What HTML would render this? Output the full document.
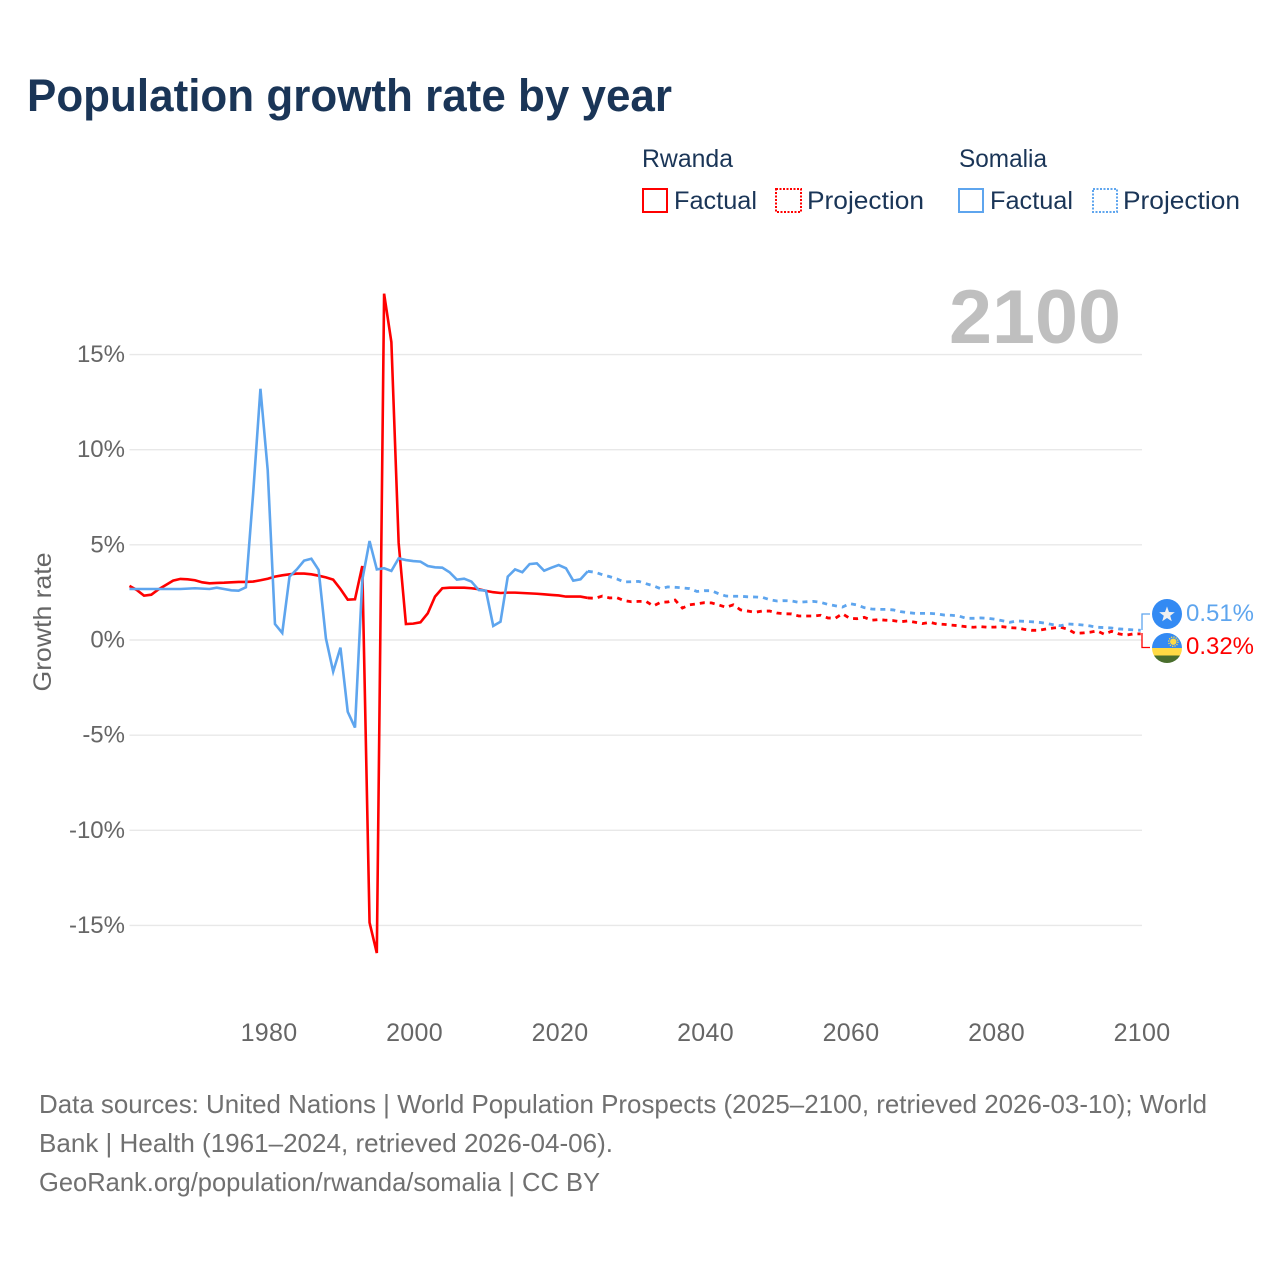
<!DOCTYPE html>
<html>
<head>
<meta charset="utf-8">
<title>Population growth rate by year</title>
<style>
html,body{margin:0;padding:0;background:#fff;}
svg{display:block;font-family:"Liberation Sans",sans-serif;}
</style>
</head>
<body>
<svg id="chart" width="1280" height="1280" viewBox="0 0 1280 1280" xmlns="http://www.w3.org/2000/svg">
  <defs>
    <clipPath id="flag-clip-r"><circle cx="1167" cy="648" r="15"/></clipPath>
  </defs>
  <rect width="1280" height="1280" fill="#fff"/>
  <text x="27" y="111" font-size="45" font-weight="700" fill="#1a3557" textLength="645" lengthAdjust="spacingAndGlyphs">Population growth rate by year</text>

  <g font-size="25" fill="#1a3557">
    <text x="642" y="167" textLength="91" lengthAdjust="spacingAndGlyphs">Rwanda</text>
    <rect x="643" y="189" width="24" height="23" fill="none" stroke="#ff0000" stroke-width="2"/>
    <text x="674" y="209" textLength="83" lengthAdjust="spacingAndGlyphs">Factual</text>
    <rect x="776" y="189" width="25" height="23" fill="none" stroke="#ff0000" stroke-width="2" stroke-dasharray="2 1.5"/>
    <text x="807" y="209" textLength="117" lengthAdjust="spacingAndGlyphs">Projection</text>
    <text x="959" y="167" textLength="88" lengthAdjust="spacingAndGlyphs">Somalia</text>
    <rect x="959" y="189" width="24" height="23" fill="none" stroke="#5ea5ee" stroke-width="2"/>
    <text x="990" y="209" textLength="83" lengthAdjust="spacingAndGlyphs">Factual</text>
    <rect x="1093" y="189" width="24" height="23" fill="none" stroke="#5ea5ee" stroke-width="2" stroke-dasharray="2 1.5"/>
    <text x="1123" y="209" textLength="117" lengthAdjust="spacingAndGlyphs">Projection</text>
  </g>

  <text x="949" y="343" font-size="76" font-weight="700" fill="#bfbfbf" textLength="172" lengthAdjust="spacingAndGlyphs">2100</text>
  <text x="0" y="0" transform="translate(51,622) rotate(-90)" text-anchor="middle" font-size="25" fill="#666" textLength="139" lengthAdjust="spacingAndGlyphs">Growth rate</text>

  <g id="grid"></g>
  <g id="yticks" font-size="24" fill="#666" text-anchor="end"></g>
  <g id="xticks" font-size="25" fill="#666" text-anchor="middle" letter-spacing="0.3"></g>
  <g id="series"></g>

  <g>
    <path d="M1142 630V614H1150" fill="none" stroke="#5ea5ee" stroke-width="1.3"/>
    <path d="M1142 633V647.5H1150" fill="none" stroke="#ff0000" stroke-width="1.3"/>
    <g>
      <circle cx="1167" cy="614" r="15" fill="#338af3"/>
      <polygon points="1167,606.5 1169,612 1174.8,612.2 1170.2,615.7 1171.8,621.3 1167,618 1162.2,621.3 1163.8,615.7 1159.2,612.2 1165,612" fill="#f0f0f0"/>
    </g>
    <g clip-path="url(#flag-clip-r)">
      <rect x="1150" y="632" width="34" height="16" fill="#338af3"/>
      <rect x="1150" y="648" width="34" height="7.5" fill="#ffda44"/>
      <rect x="1150" y="655.5" width="34" height="9" fill="#496e2d"/>
      <circle cx="1173.3" cy="641.7" r="3.2" fill="#ffda44"/>
      <circle cx="1173.3" cy="641.7" r="4.6" fill="none" stroke="#ffda44" stroke-width="1.4" stroke-dasharray="1.2 1.2"/>
    </g>
    <text x="1186" y="621" font-size="24" fill="#5ea5ee" textLength="68" lengthAdjust="spacingAndGlyphs">0.51%</text>
    <text x="1186" y="654" font-size="24" fill="#ff0000" textLength="68" lengthAdjust="spacingAndGlyphs">0.32%</text>
  </g>

  <g font-size="26" fill="#707070">
    <text x="39" y="1113" textLength="1168" lengthAdjust="spacingAndGlyphs">Data sources: United Nations | World Population Prospects (2025–2100, retrieved 2026-03-10); World</text>
    <text x="39" y="1152" textLength="574" lengthAdjust="spacingAndGlyphs">Bank | Health (1961–2024, retrieved 2026-04-06).</text>
    <text x="39" y="1191" textLength="561" lengthAdjust="spacingAndGlyphs">GeoRank.org/population/rwanda/somalia | CC BY</text>
  </g>
</svg>
<script>
const factualStartYear = 1961;
const projectionStartYear = 2024;
const yTickValues = [15, 10, 5, 0, -5, -10, -15];
const xTickYears = [1980, 2000, 2020, 2040, 2060, 2080, 2100];

const rwandaFactual = [2.84,2.63,2.33,2.38,2.66,2.89,3.12,3.21,3.19,3.14,3.03,2.98,3.00,3.01,3.03,3.05,3.05,3.07,3.14,3.22,3.33,3.40,3.45,3.49,3.49,3.45,3.38,3.29,3.17,2.68,2.12,2.14,3.89,-14.85,-16.45,18.2,15.65,5.1,0.84,0.86,0.93,1.40,2.28,2.72,2.75,2.75,2.75,2.72,2.67,2.58,2.51,2.47,2.49,2.49,2.47,2.45,2.43,2.40,2.37,2.34,2.28,2.28,2.28,2.21];
const rwandaProjection = [2.21,2.19,2.31,2.21,2.22,2.07,2.01,2.03,2.03,1.79,1.98,2.00,2.10,1.68,1.85,1.90,1.96,1.95,1.84,1.72,1.85,1.58,1.52,1.46,1.52,1.52,1.42,1.38,1.37,1.26,1.26,1.26,1.30,1.16,1.14,1.38,1.14,1.12,1.19,1.04,1.07,1.04,1.02,0.96,1.00,0.93,0.86,0.93,0.84,0.82,0.78,0.75,0.70,0.67,0.70,0.67,0.68,0.70,0.65,0.63,0.56,0.51,0.51,0.58,0.63,0.67,0.56,0.35,0.37,0.41,0.48,0.30,0.46,0.32,0.26,0.32,0.32];
const somaliaFactual = [2.68,2.68,2.68,2.68,2.68,2.68,2.68,2.68,2.70,2.72,2.70,2.68,2.75,2.68,2.61,2.59,2.77,7.7,13.2,8.93,0.84,0.37,3.33,3.71,4.17,4.27,3.68,0.09,-1.66,-0.40,-3.77,-4.60,3.15,5.20,3.71,3.77,3.63,4.29,4.20,4.15,4.12,3.89,3.82,3.80,3.56,3.17,3.22,3.07,2.63,2.59,0.74,0.96,3.33,3.71,3.56,3.99,4.03,3.64,3.80,3.94,3.77,3.12,3.19,3.61];
const somaliaProjection = [3.61,3.56,3.43,3.33,3.21,3.05,3.06,3.08,2.96,2.85,2.70,2.79,2.77,2.74,2.70,2.55,2.59,2.59,2.43,2.31,2.30,2.30,2.27,2.26,2.24,2.12,2.05,2.07,2.05,1.98,2.01,2.03,1.98,1.87,1.80,1.73,1.91,1.84,1.70,1.63,1.61,1.61,1.58,1.49,1.44,1.40,1.40,1.40,1.37,1.31,1.30,1.26,1.14,1.14,1.16,1.14,1.09,1.01,0.93,1.00,0.98,0.96,0.93,0.88,0.80,0.75,0.84,0.82,0.79,0.74,0.67,0.65,0.63,0.58,0.56,0.53,0.51];

const SVG_NS = 'http://www.w3.org/2000/svg';
const markLeftYear = 1980, markLeftX = 267.7, pxPerYear = 7.275, tickLabelOffset = 1.3;
const zeroY = 640, pxPerPercent = 19.03;
function xScale(year) { return markLeftX + (year - markLeftYear) * pxPerYear; }
function yScale(value) { return zeroY - value * pxPerPercent; }

const gridGroup = document.getElementById('grid');
const yTickGroup = document.getElementById('yticks');
const xTickGroup = document.getElementById('xticks');
const seriesGroup = document.getElementById('series');

yTickValues.forEach(function (v) {
  const line = document.createElementNS(SVG_NS, 'line');
  
  
  line.setAttribute('x1', xScale(factualStartYear));
  line.setAttribute('x2', xScale(2100) + tickLabelOffset);
  line.setAttribute('y1', yScale(v));
  line.setAttribute('y2', yScale(v));
  line.setAttribute('stroke', '#e8e8e8');
  line.setAttribute('stroke-width', '1.4');
  gridGroup.appendChild(line);
  const label = document.createElementNS(SVG_NS, 'text');
  
  
  label.setAttribute('x', 125);
  label.setAttribute('y', yScale(v) + 7.5);
  label.textContent = v + '%';
  yTickGroup.appendChild(label);
});

xTickYears.forEach(function (year) {
  const label = document.createElementNS(SVG_NS, 'text');
  
  
  label.setAttribute('x', xScale(year) + tickLabelOffset);
  label.setAttribute('y', 1041);
  label.textContent = year;
  xTickGroup.appendChild(label);
});

function drawSeries(values, startYear, color, dashed, name) {
  const pts = values.map(function (v, i) {
    return xScale(startYear + i).toFixed(2) + ',' + yScale(v).toFixed(2);
  }).join(' ');
  const line = document.createElementNS(SVG_NS, 'polyline');
  
  
  line.setAttribute('points', pts);
  line.setAttribute('fill', 'none');
  line.setAttribute('stroke', color);
  line.setAttribute('stroke-width', dashed ? '2.8' : '2.6');
  line.setAttribute('stroke-linejoin', 'miter');
  if (dashed) line.setAttribute('stroke-dasharray', '5 5');
  seriesGroup.appendChild(line);
}

drawSeries(rwandaFactual, factualStartYear, '#ff0000', false, 'rwanda-factual-line');
drawSeries(rwandaProjection, projectionStartYear, '#ff0000', true, 'rwanda-projection-line');
drawSeries(somaliaFactual, factualStartYear, '#5ea5ee', false, 'somalia-factual-line');
drawSeries(somaliaProjection, projectionStartYear, '#5ea5ee', true, 'somalia-projection-line');
</script>
</body>
</html>
